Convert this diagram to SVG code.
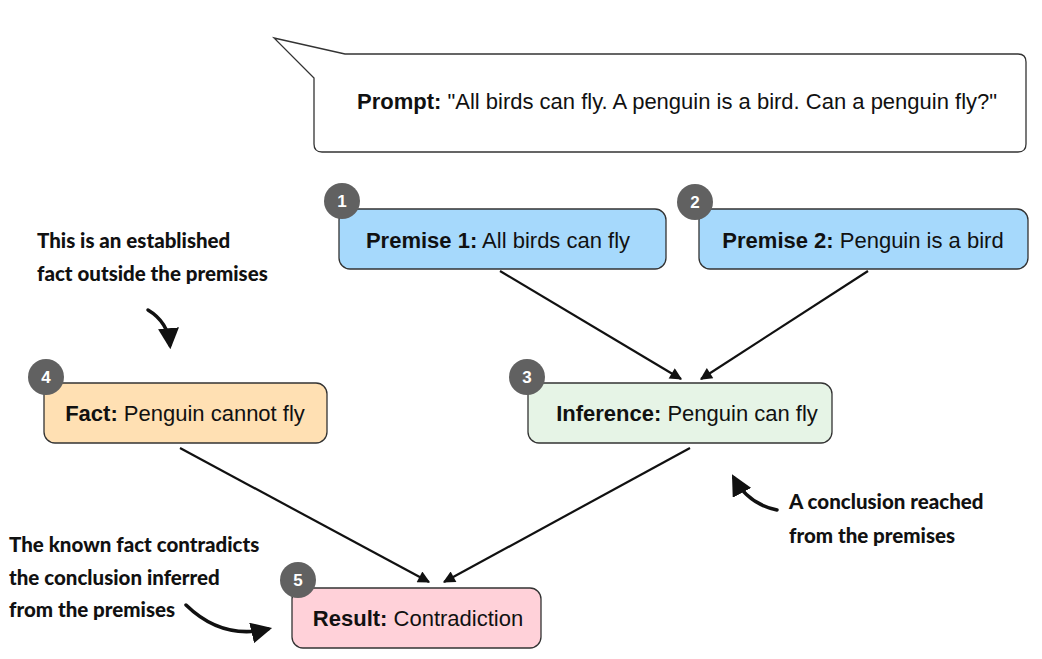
<svg xmlns="http://www.w3.org/2000/svg" width="1042" height="659" viewBox="0 0 1042 659">
<defs>
<style>
.box{stroke:#333;stroke-width:1.3}
.lbl{font-family:"Liberation Sans",Arial,sans-serif;font-size:22px;fill:#111}
.b{font-weight:bold}
.badge{fill:#616161}
.bt{font-family:"Liberation Sans",Arial,sans-serif;font-size:17px;font-weight:bold;fill:#fff;text-anchor:middle}
.note{font-family:Lato,"Open Sans",sans-serif;font-weight:900;font-size:20.5px;fill:#111}
.conn{stroke:#111;stroke-width:2.2;fill:none}
.curve{stroke:#111;stroke-width:3.5;fill:none;stroke-linecap:round}
</style>
<marker id="ah" viewBox="0 0 10 10" refX="9" refY="5" markerWidth="14" markerHeight="12" markerUnits="userSpaceOnUse" orient="auto"><path d="M0,0 L10,5 L0,10 z" fill="#111"/></marker>
<marker id="ah2" viewBox="0 0 10 10" refX="8" refY="5" markerWidth="6" markerHeight="6" orient="auto"><path d="M0,0 L10,5 L0,10 z" fill="#111"/></marker>
</defs>
<rect width="1042" height="659" fill="#fff"/>
<g id="prompt">
<path d="M274,38 L345,54 L1018,54 Q1026,54 1026,62 L1026,144 Q1026,152 1018,152 L322,152 Q314,152 314,144 L314,78 Z" fill="#fff" stroke="#333" stroke-width="1.3"/>
<text class="lbl" x="357" y="109"><tspan class="b">Prompt:</tspan> "All birds can fly. A penguin is a bird. Can a penguin fly?"</text>
</g>
<g id="connectors">
<line class="conn" x1="500" y1="271" x2="681" y2="379" marker-end="url(#ah)"/>
<line class="conn" x1="868" y1="271" x2="701" y2="379" marker-end="url(#ah)"/>
<line class="conn" x1="180" y1="448" x2="429" y2="582" marker-end="url(#ah)"/>
<line class="conn" x1="690" y1="448" x2="444" y2="582" marker-end="url(#ah)"/>
</g>
<g id="premise1">
<rect class="box" x="339" y="209" width="327" height="60" rx="11" fill="#a6d9fc"/>
<text class="lbl" x="498" y="248" text-anchor="middle"><tspan class="b">Premise 1:</tspan> All birds can fly</text>
<circle class="badge" cx="342" cy="201" r="18"/>
<text class="bt" x="342" y="207">1</text>
</g>
<g id="premise2">
<rect class="box" x="699" y="209" width="329" height="60" rx="11" fill="#a6d9fc"/>
<text class="lbl" x="863" y="248" text-anchor="middle"><tspan class="b">Premise 2:</tspan> Penguin is a bird</text>
<circle class="badge" cx="695" cy="202" r="18"/>
<text class="bt" x="695" y="208">2</text>
</g>
<g id="fact">
<rect class="box" x="44" y="383" width="283" height="60" rx="11" fill="#ffe0b3"/>
<text class="lbl" x="185" y="421" text-anchor="middle"><tspan class="b">Fact:</tspan> Penguin cannot fly</text>
<circle class="badge" cx="46" cy="377" r="18"/>
<text class="bt" x="46" y="383">4</text>
</g>
<g id="inference">
<rect class="box" x="528" y="383" width="304" height="60" rx="11" fill="#e6f4e6"/>
<text class="lbl" x="687" y="421" text-anchor="middle"><tspan class="b">Inference:</tspan> Penguin can fly</text>
<circle class="badge" cx="527" cy="377" r="18"/>
<text class="bt" x="527" y="383">3</text>
</g>
<g id="result">
<rect class="box" x="292" y="588" width="249" height="60" rx="11" fill="#ffd1d9"/>
<text class="lbl" x="418" y="626" text-anchor="middle"><tspan class="b">Result:</tspan> Contradiction</text>
<circle class="badge" cx="298" cy="580" r="18"/>
<text class="bt" x="298" y="586">5</text>
</g>
<g id="annotations">
<text class="note" x="37" y="248">This is an established</text>
<text class="note" x="37" y="281">fact outside the premises</text>
<path class="curve" d="M148,310 Q168,322 170,345" marker-end="url(#ah2)"/>
<text class="note" x="789" y="509">A conclusion reached</text>
<text class="note" x="789" y="543">from the premises</text>
<path class="curve" d="M777,510 Q748,504 734,478" marker-end="url(#ah2)"/>
<text class="note" x="9" y="552">The known fact contradicts</text>
<text class="note" x="9" y="585">the conclusion inferred</text>
<text class="note" x="9" y="617">from the premises</text>
<path class="curve" d="M186,605 Q222,640 268,629" marker-end="url(#ah2)"/>
</g>
</svg>
